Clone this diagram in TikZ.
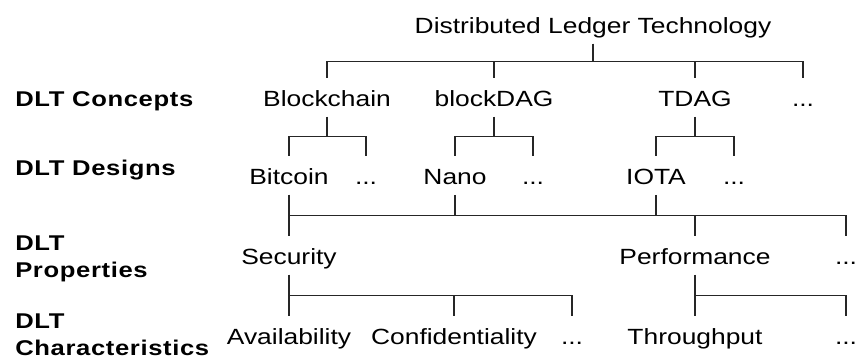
\documentclass[tikz,border=0pt]{standalone}
\usepackage{fontspec}
\setmainfont{Liberation Sans}[FakeStretch=1.2]
\newfontfamily\levelfont{Liberation Sans}[FakeStretch=1.2,LetterSpace=3]
\usetikzlibrary{calc}
\tikzset{
  item/.style  = {anchor=base, inner sep=0pt, text height=20.5pt,
                  text depth=8pt, font=\fontsize{16.5}{20}\selectfont},
  level/.style = {anchor=base west, inner sep=0pt, align=left,
                  font=\levelfont\bfseries\fontsize{16}{20}\selectfont},
  elbow/.style = {to path={|- ($(\tikztostart)!.5!(\tikztotarget)$) -| (\tikztotarget)}},
  link/.style  = {line width=0.9pt, black!85},
}

\begin{document}
\begin{tikzpicture}[x=0.75pt, y=-0.75pt]
    \useasboundingbox (0,0) rectangle (858,358);

    % level names
    \node[level] (lconc) at (15,106) {DLT Concepts};
    \node[level] (ldes)  at (15,175) {DLT Designs};
    \node[level] (lprop) at (15,277) {DLT\\Properties};
    \node[level] (lchar) at (15,355) {DLT\\Characteristics};

    % root and concepts
    \node[item] (dlt)   at (593,33)  {Distributed Ledger Technology};
    \node[item] (bc)    at (327,106) {Blockchain};
    \node[item] (bd)    at (494,106) {blockDAG};
    \node[item] (td)    at (695,106) {TDAG};
    \node[item] (cdots) at (803,106) {...};

    % designs
    \node[item] (bit)   at (289,184) {Bitcoin};
    \node[item] (bdots) at (366,184) {...};
    \node[item] (nano)  at (455,184) {Nano};
    \node[item] (ndots) at (533,184) {...};
    \node[item] (iota)  at (656,184) {IOTA};
    \node[item] (idots) at (734,184) {...};

    % properties
    \node[item] (sec)   at (289,264) {Security};
    \node[item] (perf)  at (695,264) {Performance};
    \node[item] (pdots) at (846,264) {...};

    % characteristics
    \node[item] (avail) at (289,344) {Availability};
    \node[item] (conf)  at (454,344) {Confidentiality};
    \node[item] (sdots) at (572,344) {...};
    \node[item] (thr)   at (695,344) {Throughput};
    \node[item] (tdots) at (846,344) {...};

    % tree lines
    \foreach \c in {bc,bd,td,cdots}
        \draw[link] (dlt.south) to[elbow] (\c.north);
    \foreach \d in {bit,bdots}
        \draw[link] (bc.south) to[elbow] (\d.north);
    \foreach \d in {nano,ndots}
        \draw[link] (bd.south) to[elbow] (\d.north);
    \foreach \d in {iota,idots}
        \draw[link] (td.south) to[elbow] (\d.north);

    % designs share one bus down to the properties
    \foreach \p in {sec,perf,pdots}
        \draw[link] (bit.south) to[elbow] (\p.north);
    \draw[link] (nano.south) to[elbow] (perf.north);
    \draw[link] (iota.south) to[elbow] (perf.north);

    \foreach \h in {avail,conf,sdots}
        \draw[link] (sec.south) to[elbow] (\h.north);
    \foreach \h in {thr,tdots}
        \draw[link] (perf.south) to[elbow] (\h.north);
\end{tikzpicture}
\end{document}
